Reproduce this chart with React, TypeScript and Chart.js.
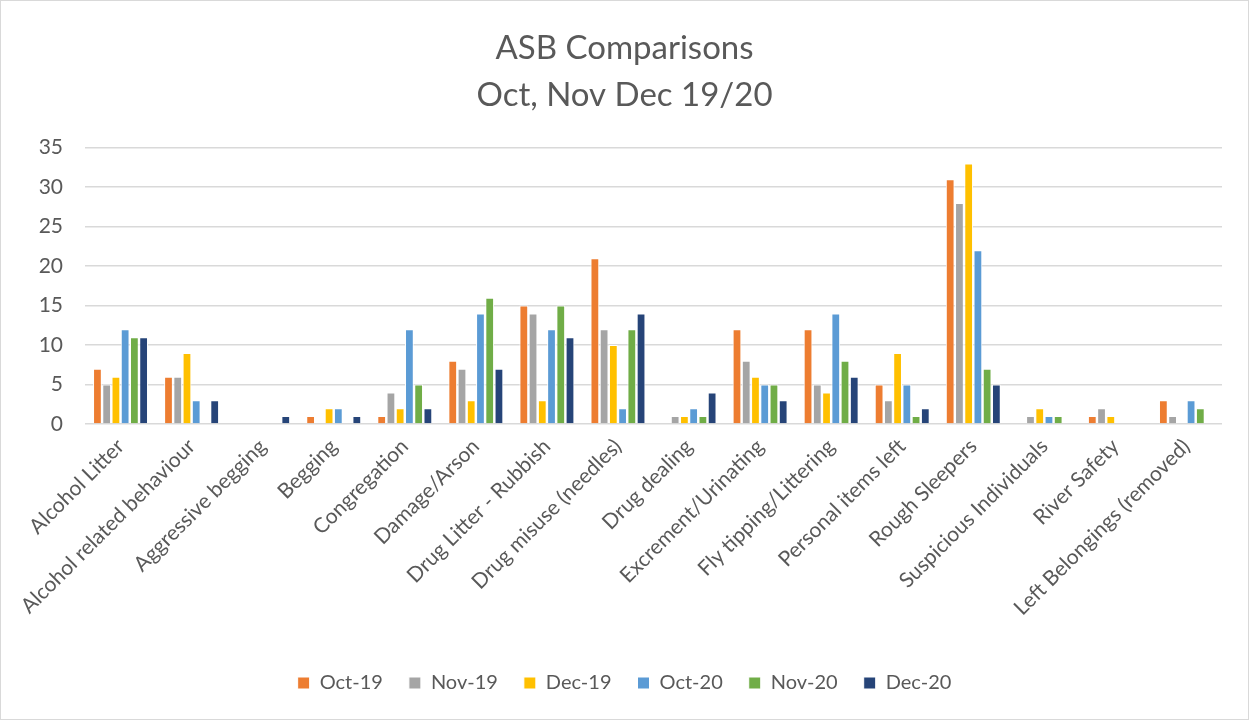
import React, { useEffect, useRef } from "react";
import { Chart, registerables } from "chart.js";

Chart.register(...registerables);

const categories = [
  "Alcohol Litter",
  "Alcohol related behaviour",
  "Aggressive begging",
  "Begging",
  "Congregation",
  "Damage/Arson",
  "Drug Litter - Rubbish",
  "Drug misuse (needles)",
  "Drug dealing",
  "Excrement/Urinating",
  "Fly tipping/Littering",
  "Personal items left",
  "Rough Sleepers",
  "Suspicious Individuals",
  "River Safety",
  "Left Belongings (removed)",
];

const oct19 = [7, 6, 0, 1, 1, 8, 15, 21, 0, 12, 12, 5, 31, 0, 1, 3];
const nov19 = [5, 6, 0, 0, 4, 7, 14, 12, 1, 8, 5, 3, 28, 1, 2, 1];
const dec19 = [6, 9, 0, 2, 2, 3, 3, 10, 1, 6, 4, 9, 33, 2, 1, 0];
const oct20 = [12, 3, 0, 2, 12, 14, 12, 2, 2, 5, 14, 5, 22, 1, 0, 3];
const nov20 = [11, 0, 0, 0, 5, 16, 15, 12, 1, 5, 8, 1, 7, 1, 0, 2];
const dec20 = [11, 3, 1, 1, 2, 7, 11, 14, 4, 3, 6, 2, 5, 0, 0, 0];

const seriesNames = ["Oct-19", "Nov-19", "Dec-19", "Oct-20", "Nov-20", "Dec-20"];
const seriesColors = ["#ED7D31", "#A5A5A5", "#FFC000", "#5B9BD5", "#70AD47", "#264478"];
const titleLines = ["ASB Comparisons", "Oct, Nov Dec 19/20"];
const yTicks = [0, 5, 10, 15, 20, 25, 30, 35];

const FONT = "Lato, 'Open Sans', sans-serif";

export default function App() {
  const ref = useRef<HTMLCanvasElement | null>(null);
  useEffect(() => {
    if (!ref.current) return;
    const values = [oct19, nov19, dec19, oct20, nov20, dec20];
    const chart = new Chart(ref.current, {
      type: "bar",
      data: {
        labels: categories,
        datasets: seriesNames.map((name, i) => ({
          label: name,
          data: values[i],
          backgroundColor: seriesColors[i],
          borderColor: "#ffffff",
          borderWidth: 1,
          categoryPercentage: 0.78,
          barPercentage: 0.95,
        })),
      },
      options: {
        animation: false,
        responsive: true,
        maintainAspectRatio: false,
        layout: { padding: { left: 26, right: 26, top: 0, bottom: 16 } },
        plugins: {
          title: {
            display: true,
            text: titleLines,
            color: "#595959",
            font: { family: FONT, size: 33, weight: "normal", lineHeight: 1.45 },
            padding: { top: 23, bottom: 28 },
          },
          legend: {
            position: "bottom",
            labels: {
              color: "#595959",
              font: { family: FONT, size: 20 },
              boxWidth: 12,
              boxHeight: 12,
              padding: 26,
            },
          },
          tooltip: { enabled: false },
        },
        scales: {
          x: {
            grid: { display: false },
            border: { display: false },
            afterFit: (axis: any) => {
              axis.height = 223;
            },
            ticks: {
              color: "#595959",
              font: { family: FONT, size: 21 },
              maxRotation: 45,
              minRotation: 45,
              autoSkip: false,
              padding: 2,
            },
          },
          y: {
            min: 0,
            max: 35,
            afterBuildTicks: (axis: any) => {
              axis.ticks = yTicks.map((v) => ({ value: v }));
            },
            afterFit: (axis: any) => {
              axis.width = 58;
            },
            grid: { color: "#d9d9d9", lineWidth: 1.5, drawTicks: false },
            border: { display: false },
            ticks: {
              color: "#595959",
              font: { family: FONT, size: 21 },
              padding: 22,
            },
          },
        },
      },
    });
    return () => chart.destroy();
  }, []);
  return (
    <div
      style={{
        position: "absolute",
        left: 0,
        top: 0,
        width: 1249,
        height: 720,
        boxSizing: "border-box",
        border: "1px solid #d9d9d9",
        background: "#fff",
      }}
    >
      <canvas ref={ref} />
    </div>
  );
}
